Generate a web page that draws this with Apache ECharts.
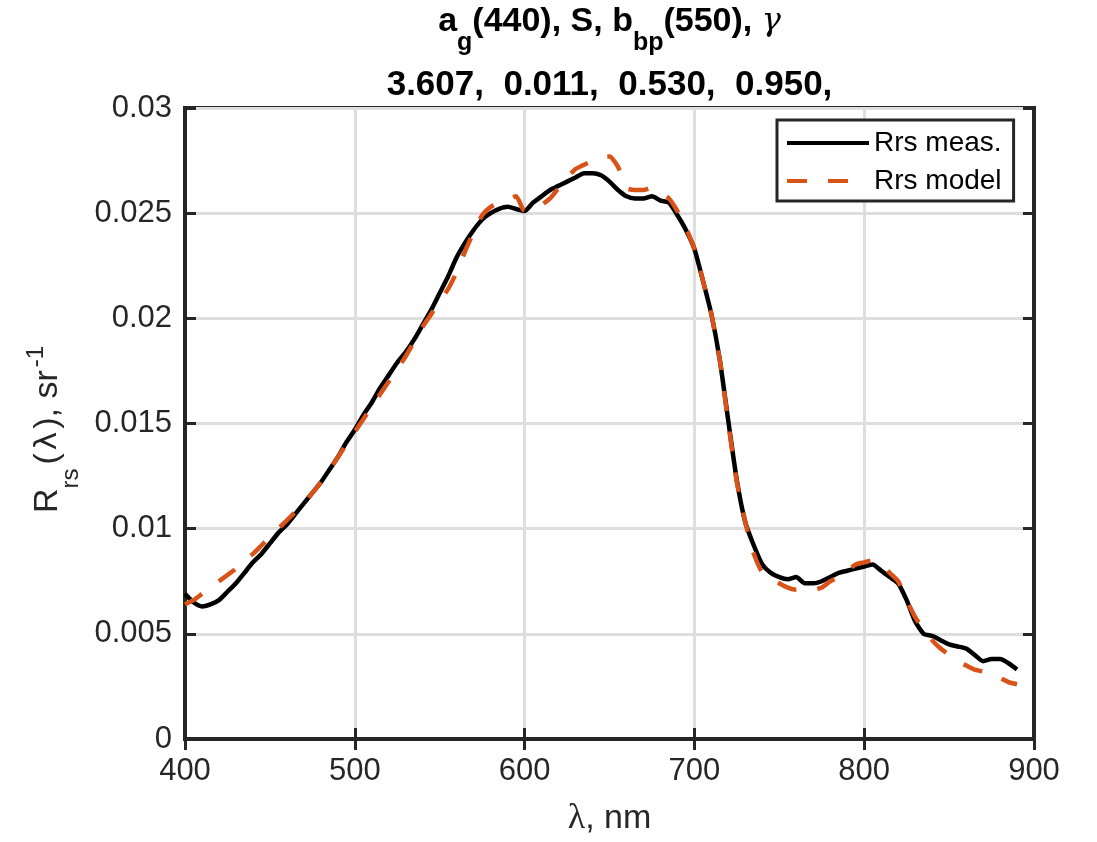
<!DOCTYPE html>
<html>
<head>
<meta charset="utf-8">
<script src="https://cdn.jsdelivr.net/npm/echarts@6/dist/echarts.min.js"></script>
<style>
html,body{margin:0;padding:0;background:#fff;}
#chart{width:1097px;height:842px;}
</style>
</head>
<body>
<div id="chart"></div>
<script>
const wavelengths = [400,405,410,415,420,425,430,435,440,445,450,455,460,465,470,475,480,485,490,495,
500,505,510,515,520,525,530,535,540,545,550,555,560,565,570,575,580,585,590,595,
600,605,610,615,620,625,630,635,640,645,650,655,660,665,670,675,680,685,690,695,
700,705,710,715,720,725,730,735,740,745,750,755,760,765,770,775,780,785,790,795,
800,805,810,815,820,825,830,835,840,845,850,855,860,865,870,875,880,885,890];

const rrsMeas = [0.0069,0.0065,0.0063,0.0064,0.0066,0.0070,0.0074,0.0079,0.0084,0.0088,
0.0093,0.0098,0.0102,0.0107,0.0112,0.0117,0.0122,0.0128,0.0134,0.0141,
0.0147,0.0154,0.0160,0.0167,0.0173,0.0179,0.0184,0.0190,0.0197,0.0204,
0.0212,0.0220,0.0229,0.0236,0.0242,0.0247,0.0250,0.0252,0.0253,0.0252,
0.0251,0.0255,0.0258,0.0261,0.0263,0.0265,0.0267,0.0269,0.0269,0.0268,
0.0265,0.0261,0.0258,0.0257,0.0257,0.0258,0.0256,0.0255,0.0249,0.0242,
0.0233,0.0218,0.0202,0.0180,0.0151,0.0123,0.0103,0.0092,0.0083,0.0079,
0.0077,0.0076,0.0077,0.0074,0.0074,0.0075,0.0077,0.0079,0.0080,0.0081,
0.0082,0.0083,0.0080,0.0077,0.0074,0.0066,0.0056,0.0050,0.0049,0.0047,
0.0045,0.0044,0.0043,0.0040,0.0037,0.0038,0.0038,0.0036,0.0033];

const rrsModel = [0.0064,0.0066,0.0069,0.0072,0.0075,0.0078,0.0081,0.0085,0.0088,0.0092,
0.0096,0.0100,0.0104,0.0108,0.0112,0.0117,0.0122,0.0128,0.0134,0.0140,
0.0146,0.0152,0.0158,0.0164,0.0170,0.0176,0.0182,0.0189,0.0196,0.0202,
0.0208,0.0214,0.0222,0.0232,0.0241,0.0249,0.0253,0.0255,0.0256,0.0258,
0.0251,0.0252,0.0254,0.0257,0.0262,0.0267,0.0271,0.0273,0.0275,0.0277,
0.0277,0.0272,0.0262,0.0261,0.0261,0.0262,0.0260,0.0257,0.0251,0.0243,
0.0233,0.0218,0.0202,0.0180,0.0150,0.0122,0.0103,0.0088,0.0079,0.0076,
0.0074,0.0072,0.0071,0.0071,0.0071,0.0072,0.0075,0.0077,0.0080,0.0083,
0.0084,0.0085,0.0083,0.0079,0.0075,0.0066,0.0058,0.0052,0.0047,0.0043,
0.0040,0.0037,0.0035,0.0033,0.0032,0.0030,0.0029,0.0027,0.0026];

const xTickLabels = ['400','500','600','700','800','900'];
const yTickLabels = ['0','0.005','0.01','0.015','0.02','0.025','0.03'];
const seriesNames = ['Rrs meas.','Rrs model'];
const titleLine1 = ['a','g','(440), S, b','bp','(550), ','γ'];
const titleLine2 = '3.607,  0.011,  0.530,  0.950,';
const yLabelParts = ['R','rs','(','λ','), sr','-1'];
const xLabelParts = ['λ',', nm'];

const FONT = '"Liberation Sans", Arial, Helvetica, sans-serif';
const AX = '#262626';

const chart = echarts.init(document.getElementById('chart'), null, {renderer:'canvas'});

const xBase = {type:'value', min:400, max:900, interval:100};
const yBase = {type:'value', min:0, max:0.03, interval:0.005};

const option = {
  backgroundColor:'#fff',
  animation:false,
  grid:{left:185, right:63, top:108, bottom:100, show:true, borderColor:AX, borderWidth:4, backgroundColor:'transparent'},
  graphic:[
    {type:'text', z:100,
     style:{x:609.5, y:22, align:'center', verticalAlign:'middle',
       text:'{b|'+titleLine1[0]+'}{s|'+titleLine1[1]+'}{b|'+titleLine1[2]+'}{s|'+titleLine1[3]+'}{b|'+titleLine1[4]+'}{g|'+titleLine1[5]+'}',
       rich:{
         b:{fontFamily:FONT, fontWeight:'bold', fontSize:34, fill:'#000'},
         s:{fontFamily:FONT, fontWeight:'bold', fontSize:25, fill:'#000', padding:[42,0,0,0]},
         g:{fontFamily:'"DejaVu Serif", serif', fontStyle:'italic', fontSize:32, fill:'#000'}
       }}},
    {type:'text', z:100,
     style:{x:609.5, y:85, align:'center', verticalAlign:'middle', text:titleLine2,
       fontFamily:FONT, fontWeight:'bold', fontSize:35, fill:'#000'}}
  ],
  legend:{
    orient:'vertical', left:777, top:120,
    padding:[8,12,5,8],
    itemWidth:82, itemHeight:20, itemGap:8,
    backgroundColor:'#fff', borderColor:AX, borderWidth:3,
    itemStyle:{opacity:0},
    lineStyle:{width:4},
    textStyle:{fontFamily:FONT, fontSize:28, color:'#000', lineHeight:30},
    data:seriesNames
  },
  xAxis:[
    Object.assign({}, xBase, {
      position:'bottom',
      axisLine:{show:true, lineStyle:{color:AX, width:4}},
      axisTick:{show:true, inside:true, length:11, lineStyle:{color:AX, width:3}},
      axisLabel:{show:true, margin:17, fontFamily:FONT, fontSize:31, color:AX,
        formatter:(v)=>xTickLabels[Math.round((v-400)/100)]},
      splitLine:{show:true, lineStyle:{color:'#dedede', width:3}},
      name:'{l|'+xLabelParts[0]+'}{m|'+xLabelParts[1]+'}', nameLocation:'middle', nameGap:62,
      nameTextStyle:{fontFamily:FONT, fontSize:34, color:AX,
        rich:{
          l:{fontFamily:'"Liberation Serif", serif', fontSize:36, color:AX},
          m:{fontFamily:FONT, fontSize:34, color:AX}
        }}
    }),
    Object.assign({}, xBase, {
      position:'top',
      axisLine:{show:true, lineStyle:{color:AX, width:4}},
      axisTick:{show:true, inside:true, length:11, lineStyle:{color:AX, width:3}},
      axisLabel:{show:false}, splitLine:{show:false}
    })
  ],
  yAxis:[
    Object.assign({}, yBase, {
      position:'left',
      axisLine:{show:true, lineStyle:{color:AX, width:4}},
      axisTick:{show:true, inside:true, length:11, lineStyle:{color:AX, width:3}},
      axisLabel:{show:true, margin:13, fontFamily:FONT, fontSize:31, color:AX,
        formatter:(v)=>yTickLabels[Math.round(v/0.005)]},
      splitLine:{show:true, lineStyle:{color:'#dedede', width:3}},
      name:'{m|'+yLabelParts[0]+'}{sub|'+yLabelParts[1]+'}{p|'+yLabelParts[2]+'}{l|'+yLabelParts[3]+'}{m|'+yLabelParts[4]+'}{sup|'+yLabelParts[5]+'}',
      nameLocation:'middle', nameGap:102,
      nameTextStyle:{fontFamily:FONT, fontSize:34, color:AX,
        rich:{
          m:{fontFamily:FONT, fontSize:34, color:AX},
          p:{fontFamily:FONT, fontSize:34, color:AX, padding:[0,0,0,4]},
          l:{fontFamily:'"DejaVu Sans", sans-serif', fontSize:31, color:AX, padding:[0,3,0,3]},
          sub:{fontFamily:FONT, fontSize:24, color:AX, padding:[46,0,0,0]},
          sup:{fontFamily:FONT, fontSize:24, color:AX, padding:[0,12,24,3]}
        }}
    }),
    Object.assign({}, yBase, {
      position:'right',
      axisLine:{show:true, lineStyle:{color:AX, width:4}},
      axisTick:{show:true, inside:true, length:11, lineStyle:{color:AX, width:3}},
      axisLabel:{show:false}, splitLine:{show:false}
    })
  ],
  series:[
    {name:seriesNames[0], type:'line', xAxisIndex:0, yAxisIndex:0, symbol:'none', showSymbol:false,
     smooth:0.2,
     data:wavelengths.map((w,i)=>[w, rrsMeas[i]]),
     lineStyle:{color:'#000', width:4.5}, itemStyle:{color:'#000'}, z:3},
    {name:seriesNames[1], type:'line', xAxisIndex:0, yAxisIndex:0, symbol:'none', showSymbol:false,
     smooth:0.2,
     data:wavelengths.map((w,i)=>[w, rrsModel[i]]),
     lineStyle:{color:'#D95319', width:4.5, type:[20,21]}, itemStyle:{color:'#D95319'}, z:4}
  ]
};
chart.setOption(option);
</script>
</body>
</html>
